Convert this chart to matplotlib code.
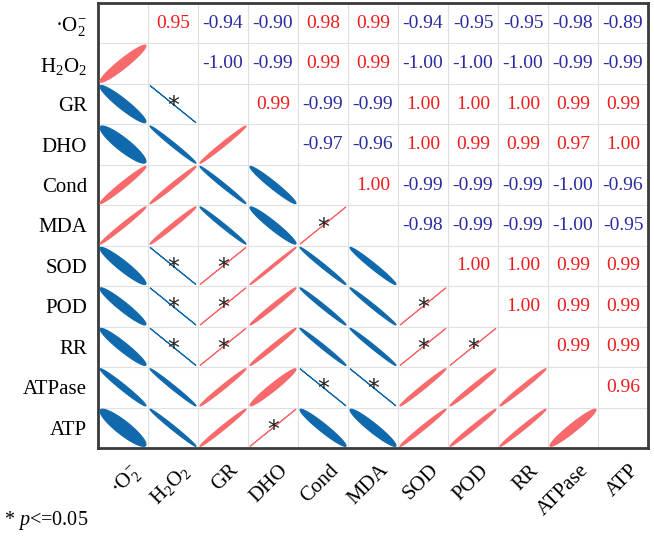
"""Correlation matrix: ellipses below the diagonal, coefficients above."""

import matplotlib

matplotlib.use("Agg")
import matplotlib.pyplot as plt
import numpy as np
from matplotlib.patches import Polygon
from matplotlib.transforms import offset_copy

plt.rcParams["font.family"] = ["Liberation Serif", "DejaVu Serif"]
plt.rcParams["mathtext.fontset"] = "custom"
plt.rcParams["mathtext.rm"] = "Liberation Serif"
plt.rcParams["mathtext.it"] = "Liberation Serif:italic"

labels = ["·O$_2^{-}$", "H$_2$O$_2$", "GR", "DHO", "Cond", "MDA",
          "SOD", "POD", "RR", "ATPase", "ATP"]

# upper triangle, one list per row (values to the right of the diagonal)
r_o2 = [0.95, -0.94, -0.90, 0.98, 0.99, -0.94, -0.95, -0.95, -0.98, -0.89]
r_h2o2 = [-1.00, -0.99, 0.99, 0.99, -1.00, -1.00, -1.00, -0.99, -0.99]
r_gr = [0.99, -0.99, -0.99, 1.00, 1.00, 1.00, 0.99, 0.99]
r_dho = [-0.97, -0.96, 1.00, 0.99, 0.99, 0.97, 1.00]
r_cond = [1.00, -0.99, -0.99, -0.99, -1.00, -0.96]
r_mda = [-0.98, -0.99, -0.99, -1.00, -0.95]
r_sod = [1.00, 1.00, 0.99, 0.99]
r_pod = [1.00, 0.99, 0.99]
r_rr = [0.99, 0.99]
r_atpase = [0.96]

# pairs marked * (p <= 0.05), as (row, column) in the lower triangle
sig_pairs = [("GR", "H2O2"), ("MDA", "Cond"),
             ("SOD", "H2O2"), ("SOD", "GR"),
             ("POD", "H2O2"), ("POD", "GR"), ("POD", "SOD"),
             ("RR", "H2O2"), ("RR", "GR"), ("RR", "SOD"), ("RR", "POD"),
             ("ATPase", "Cond"), ("ATPase", "MDA"), ("ATP", "DHO")]

keys = ["O2", "H2O2", "GR", "DHO", "Cond", "MDA", "SOD", "POD", "RR", "ATPase", "ATP"]

POS_FILL = "#F8696B"
NEG_FILL = "#0F69AC"
POS_TEXT = "#F01C1C"
NEG_TEXT = "#2A2AA2"


def build_matrix():
    rows = [r_o2, r_h2o2, r_gr, r_dho, r_cond, r_mda, r_sod, r_pod, r_rr, r_atpase]
    n = len(labels)
    m = np.eye(n)
    for i, row in enumerate(rows):
        for k, v in enumerate(row):
            j = i + 1 + k
            m[i, j] = v
            m[j, i] = v
    return m


def ellipse_xy(r, cx, cy, s=0.46, npts=120):
    a = np.arccos(np.clip(r, -1, 1)) / 2
    t = np.linspace(0, 2 * np.pi, npts)
    return np.column_stack([cx + s * np.cos(t + a), cy - s * np.cos(t - a)])


corr = build_matrix()
n = len(labels)
sig = {(keys.index(a), keys.index(b)) for a, b in sig_pairs}

fig = plt.figure(figsize=(6.54, 5.36), dpi=100)
ax = fig.add_axes([98 / 654, 1 - 448 / 536, 550 / 654, 445 / 536])
ax.set_xlim(0, n)
ax.set_ylim(n, 0)

for i in range(n):
    for j in range(n):
        r = corr[i, j]
        if i > j:
            starred = (i, j) in sig
            r_draw = r if starred else np.sign(r) * min(abs(r), 0.996)
            col = POS_FILL if r > 0 else NEG_FILL
            ax.add_patch(Polygon(ellipse_xy(r_draw, j + 0.5, i + 0.5), closed=True,
                                 facecolor=col, edgecolor=col, lw=0.8, zorder=3))
            if starred:
                ax.text(j + 0.5, i + 0.55, "*", ha="center", va="center",
                        fontsize=17, color="#222222", family="DejaVu Sans", zorder=4)
        elif i < j:
            ax.text(j + 0.5, i + 0.5, f"{r:.2f}", ha="center", va="center", fontsize=14,
                    color=POS_TEXT if r > 0 else NEG_TEXT)

ax.set_xticks(np.arange(n + 1), minor=True)
ax.set_yticks(np.arange(n + 1), minor=True)
ax.grid(which="minor", color="#E0E0E0", lw=0.8)
ax.set_axisbelow(True)

ax.set_xticks([])
ax.set_yticks(np.arange(n) + 0.5)
ax.set_yticklabels(labels, fontsize=15)
ax.tick_params(which="both", length=0)
ax.tick_params(axis="y", pad=8)

# rotated column labels hang down-left from a point just right of each cell centre
xlab_tr = offset_copy(ax.get_xaxis_transform(), fig=fig, x=6, y=-13, units="dots")
for j, lab in enumerate(labels):
    ax.text(j + 0.5, 0, lab, transform=xlab_tr, rotation=45, rotation_mode="anchor",
            ha="right", va="top", fontsize=15, clip_on=False)

for sp in ax.spines.values():
    sp.set_linewidth(2)
    sp.set_color("#3A3A3A")

fig.text(4 / 654, 1 - 520 / 536, "* $p$<=0.05", fontsize=14.5, va="center", ha="left")

fig.savefig("out.png", dpi=100)
plt.close(fig)
